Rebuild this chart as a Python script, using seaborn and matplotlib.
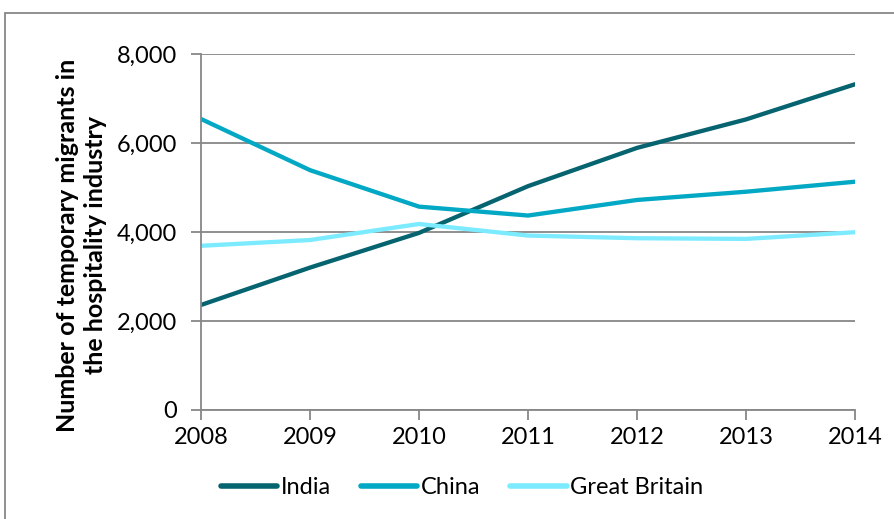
import matplotlib
matplotlib.use("Agg")
import matplotlib.pyplot as plt
import seaborn as sns
import pandas as pd
from matplotlib.patches import Rectangle

years = [2008, 2009, 2010, 2011, 2012, 2013, 2014]
india = [2360, 3200, 3980, 5030, 5890, 6530, 7320]
china = [6540, 5390, 4570, 4370, 4720, 4905, 5130]
great_britain = [3690, 3820, 4180, 3920, 3860, 3845, 3995]
series_names = ["India", "China", "Great Britain"]
colors = ["#05646F", "#02A8C4", "#7DEBFF"]
y_ticks = [0, 2000, 4000, 6000, 8000]

df = pd.DataFrame({"Year": years, "India": india, "China": china, "Great Britain": great_britain})
long = df.melt(id_vars="Year", var_name="Country", value_name="Migrants")

sns.set_theme(style="white")
plt.rcParams['font.family'] = ['Lato', 'DejaVu Sans']
plt.rcParams['text.color'] = 'black'

FS = 17

fig = plt.figure(figsize=(8.95, 5.19), dpi=100)
ax = fig.add_axes([201/895, 1-410/519, (855-201)/895, (410-54)/519])

sns.lineplot(data=long, x="Year", y="Migrants", hue="Country", hue_order=series_names,
             palette=colors, linewidth=3.1, ax=ax, legend=True)

ax.set_xlim(2008, 2014)
ax.set_ylim(0, 8000)
ax.set_xticks(years)
ax.set_yticks(y_ticks)
ax.set_xticklabels([str(y) for y in years], fontsize=FS)
ax.set_yticklabels([f"{v:,}" for v in y_ticks], fontsize=FS)
ax.yaxis.grid(True, color="#878787", linewidth=1.3)
ax.xaxis.grid(False)
for s in ["top", "right"]:
    ax.spines[s].set_visible(False)
for s in ["left", "bottom"]:
    ax.spines[s].set_color("#878787")
    ax.spines[s].set_linewidth(1.3)
ax.tick_params(axis="both", which="both", bottom=True, left=True, direction="out",
               length=7, width=1.3, color="#878787", labelcolor="black")
ax.tick_params(axis="y", pad=10)
ax.tick_params(axis="x", pad=5)
ax.set_xlabel("")
ax.set_ylabel("")
fig.text(81.5/895, 1-245/519, "Number of temporary migrants in\nthe hospitality industry",
         rotation=90, ha="center", va="center", multialignment="center",
         fontsize=18, fontweight="bold", linespacing=1.25, color="black")

leg = ax.legend(loc="center", bbox_to_anchor=((462-201)/654, -78/356), ncol=3, frameon=False,
                fontsize=FS, handlelength=2.4, columnspacing=1.25, handletextpad=0.15)
for line in leg.get_lines():
    line.set_linewidth(4)
    line.set_solid_capstyle("round")
for t in leg.get_texts():
    t.set_color("black")

fig.patches.append(Rectangle((5/895, -0.1), 2, 1 - 13/519 + 0.1, transform=fig.transFigure,
                             fill=False, edgecolor="#878787", linewidth=1.3))

fig.savefig("out.png", dpi=100)
